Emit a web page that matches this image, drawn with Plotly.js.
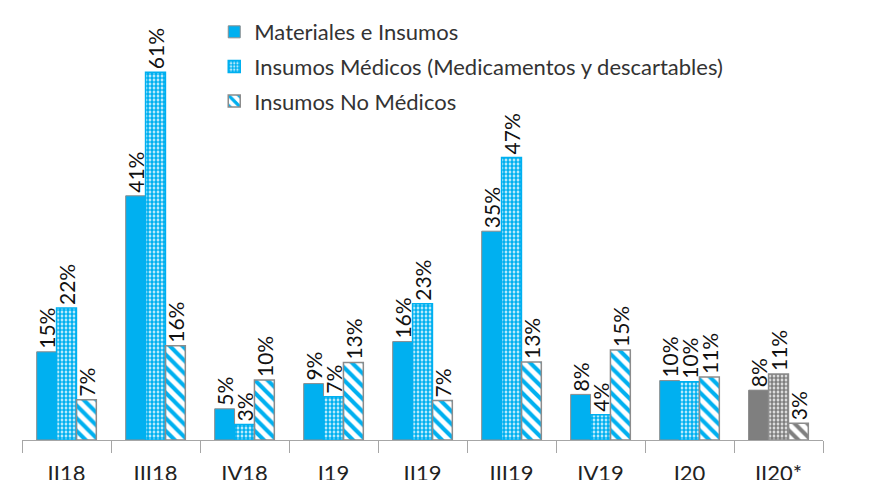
<!DOCTYPE html>
<html>
<head>
<meta charset="utf-8">
<script src="https://cdn.plot.ly/plotly-3.0.1.min.js"></script>
<style>html,body{margin:0;padding:0;background:#fff;}#chart{width:872px;height:480px;}</style>
</head>
<body>
<div id="chart"></div>
<script>
const categories = ['II18','III18','IV18','I19','II19','III19','IV19','I20','II20*'];
const seriesNames = ['Materiales e Insumos','Insumos Médicos (Medicamentos y descartables)','Insumos No Médicos'];
const materiales = [14.7, 40.7, 5.2, 9.4, 16.4, 34.8, 7.6, 9.9, 8.3];
const medicos    = [22.0, 61.3, 2.6, 7.2, 22.7, 47.1, 4.2, 9.7, 11.0];
const noMedicos  = [6.7, 15.7, 10.0, 12.9, 6.6, 13.0, 15.0, 10.5, 2.8];

const BLUE = '#00B0F0', GREY = '#7F7F7F', EDGE = '#8C8C8C';
const isEst = categories.map(c => c.endsWith('*'));
const col = isEst.map(e => e ? GREY : BLUE);
const txt = arr => arr.map(v => Math.round(v) + '%');
const FONT = 'Lato, Calibri, "Liberation Sans", sans-serif';
const common = {
  type: 'bar', x: categories, textposition: 'outside', textangle: -90,
  constraintext: 'none', cliponaxis: false,
  textfont: {family: FONT, size: 21, color: '#111'}, hoverinfo: 'skip'
};
const traces = [
  Object.assign({}, common, {
    name: seriesNames[0], y: materiales, text: txt(materiales), legendgroup: 'a',
    marker: {color: col, line: {color: isEst.map(e => e ? GREY : EDGE), width: 1}}
  }),
  Object.assign({}, common, {
    name: seriesNames[1], y: medicos, text: txt(medicos), legendgroup: 'b',
    marker: {color: col, line: {color: isEst.map(e => e ? EDGE : BLUE), width: 1.5},
      pattern: {shape: '.', fgcolor: col, bgcolor: '#ffffff', size: 4, solidity: 0.7, fillmode: 'replace'}}
  }),
  Object.assign({}, common, {
    name: seriesNames[2], y: noMedicos, text: txt(noMedicos), legendgroup: 'c',
    marker: {color: col, line: {color: EDGE, width: 1.5},
      pattern: {shape: '\\', fgcolor: col, bgcolor: '#ffffff', size: 9, solidity: 0.45, fillmode: 'replace'}}
  })
];
const layout = {
  width: 872, height: 480,
  margin: {l: 22, r: 49, t: 20, b: 40, autoexpand: false},
  paper_bgcolor: '#fff', plot_bgcolor: '#fff',
  barmode: 'group', bargap: 0.33, bargroupgap: 0,
  font: {family: FONT, color: '#333'},
  showlegend: true,
  legend: {x: 0.24, y: 0.977, yref: 'container', xanchor: 'left', yanchor: 'top', traceorder: 'grouped',
    tracegroupgap: 3, font: {family: FONT, size: 22, color: '#333'}, bgcolor: 'rgba(0,0,0,0)'},
  xaxis: {type: 'category', showline: true, linecolor: '#A6A6A6', linewidth: 1,
    ticks: 'outside', tickson: 'boundaries', ticklen: 12, tickcolor: '#A6A6A6',
    ticklabelstandoff: 14,
    tickfont: {family: FONT, size: 22, color: '#222'}, showgrid: false, zeroline: false},
  yaxis: {range: [0, 70], visible: false, showgrid: false, zeroline: false}
};
Plotly.newPlot('chart', traces, layout, {displayModeBar: false, staticPlot: true});
</script>
</body>
</html>
